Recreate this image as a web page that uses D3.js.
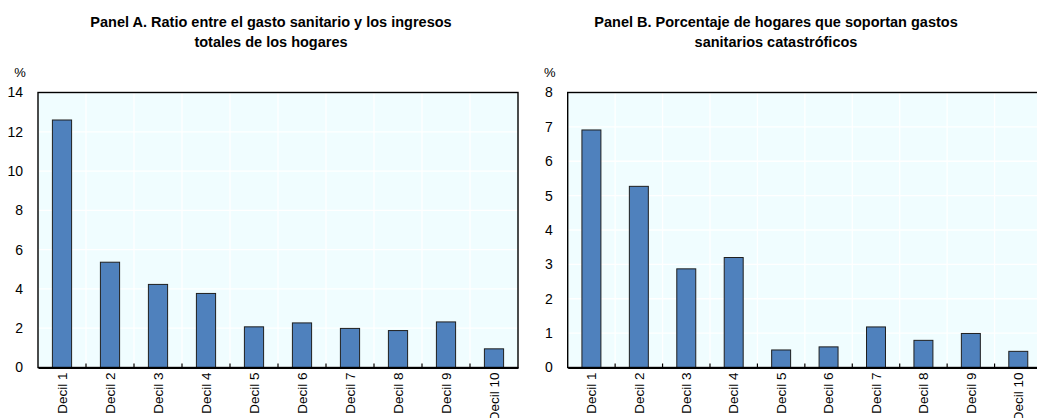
<!DOCTYPE html>
<html><head><meta charset="utf-8">
<script src="https://cdn.jsdelivr.net/npm/d3@7"></script>
<style>body{margin:0;background:#fff;}svg{display:block;}</style>
</head><body>
<svg id="c" width="1037" height="418"></svg>
<script>
const categories = ["Decil 1","Decil 2","Decil 3","Decil 4","Decil 5","Decil 6","Decil 7","Decil 8","Decil 9","Decil 10"];
const valuesA = [12.6, 5.36, 4.23, 3.77, 2.07, 2.27, 1.99, 1.88, 2.32, 0.95];
const valuesB = [6.91, 5.27, 2.87, 3.2, 0.51, 0.6, 1.18, 0.79, 0.99, 0.47];
const ticksA = [0,2,4,6,8,10,12,14];
const ticksB = [0,1,2,3,4,5,6,7,8];
const titleA = ["Panel A. Ratio entre el gasto sanitario y los ingresos","totales de los hogares"];
const titleB = ["Panel B. Porcentaje de hogares que soportan gastos","sanitarios catastróficos"];

const svg = d3.select("#c");
const font = "'Liberation Sans', Arial, sans-serif";
const narrow = "'Liberation Sans Narrow', 'Arial Narrow', 'Liberation Sans', Arial, sans-serif";

function panel(cfg){
  const g = svg.append("g");
  const x = d3.scaleBand().domain(categories).range([cfg.x0, cfg.x1]).paddingInner(0.6).paddingOuter(0.3);
  const y = d3.scaleLinear().domain([0, cfg.max]).range([367.5, 92.5]);
  g.append("rect").attr("x",cfg.x0).attr("y",y(cfg.max)).attr("width",cfg.x1-cfg.x0).attr("height",y(0)-y(cfg.max)).attr("fill","#f0fdff");
  // grid
  g.selectAll(".hg").data(cfg.ticks).enter().append("line")
    .attr("x1",cfg.x0).attr("x2",cfg.x1).attr("y1",d=>y(d)).attr("y2",d=>y(d))
    .attr("stroke","#ffffff").attr("stroke-width",1.3);
  const step = x.step();
  const bounds = d3.range(1, categories.length).map(i => cfg.x0 + i*step);
  g.selectAll(".vg").data(bounds).enter().append("line")
    .attr("x1",d=>d).attr("x2",d=>d).attr("y1",y(cfg.max)).attr("y2",y(0))
    .attr("stroke","#ffffff").attr("stroke-width",1.3);
  // bars
  g.selectAll(".bar").data(cfg.values).enter().append("rect")
    .attr("x",(d,i)=>x(categories[i])).attr("width",x.bandwidth())
    .attr("y",d=>y(d)).attr("height",d=>y(0)-y(d))
    .attr("fill","#4f81bd").attr("stroke","#1f1f1f").attr("stroke-width",1);
  // frame
  g.append("rect").attr("x",cfg.x0).attr("y",y(cfg.max)).attr("width",cfg.x1-cfg.x0).attr("height",y(0)-y(cfg.max))
    .attr("fill","none").attr("stroke","#000").attr("stroke-width",1.4);
  // x axis
  const xa = g.append("g").attr("transform",`translate(0,${y(0)})`)
    .call(d3.axisBottom(x).tickSize(0).tickPadding(0));
  xa.select(".domain").attr("stroke","#000").attr("stroke-width",2.2);
  xa.selectAll("text").attr("font-family",font).attr("font-size",13.5).attr("fill","#000")
    .attr("transform","rotate(-90)").attr("text-anchor","end").attr("dy","0.35em").attr("dx","-5").attr("x",0).attr("y",0)
    .attr("transform",function(){ return "rotate(-90)"; });
  xa.selectAll(".tick text").attr("dy","0.35em");
  // inner ticks at boundaries
  g.selectAll(".xt").data(bounds).enter().append("line")
    .attr("x1",d=>d).attr("x2",d=>d).attr("y1",y(0)).attr("y2",y(0)-4)
    .attr("stroke","#000").attr("stroke-width",1.2);
  // y axis labels
  const ya = g.append("g").attr("transform",`translate(${cfg.x0},0)`)
    .call(d3.axisLeft(y).tickValues(cfg.ticks).tickSize(0).tickPadding(15).tickFormat(d3.format("d")));
  ya.select(".domain").remove();
  ya.selectAll("text").attr("font-family",font).attr("font-size",14).attr("fill","#000");
  g.append("text").attr("x",cfg.x0-18).attr("y",77).attr("text-anchor","middle")
    .attr("font-family",font).attr("font-size",13).text("%");
  // title
  const t = g.append("text").attr("text-anchor","middle").attr("font-family",narrow)
    .attr("font-weight","bold").attr("font-size",14.5).attr("fill","#000");
  cfg.title.forEach((s,i)=>t.append("tspan").attr("x",cfg.tx).attr("y",27+i*20).text(s));
}
panel({x0:38, x1:518, max:14, ticks:ticksA, values:valuesA, title:titleA, tx:271});
panel({x0:567.7, x1:1042, max:8, ticks:ticksB, values:valuesB, title:titleB, tx:776});
</script>
</body></html>
